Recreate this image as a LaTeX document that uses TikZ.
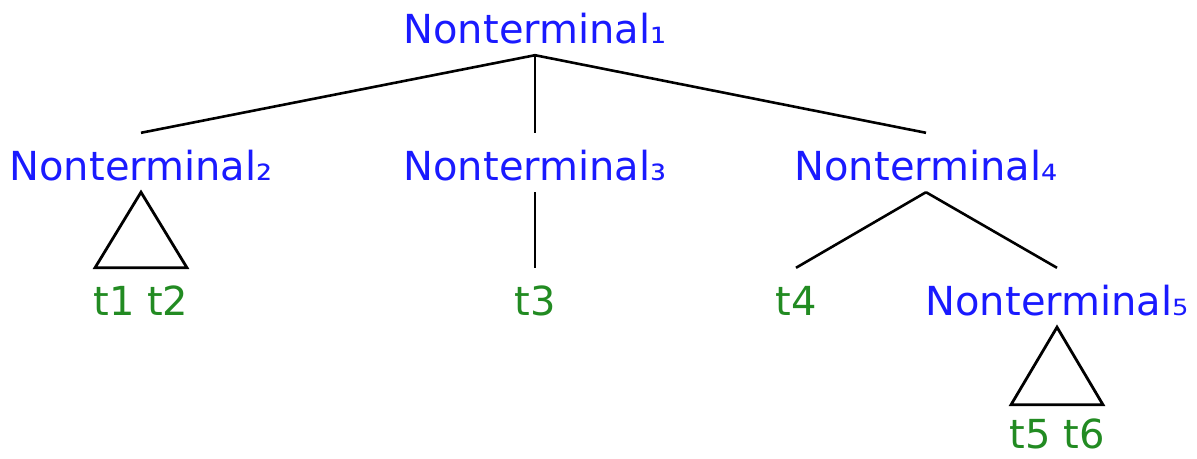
\documentclass[tikz,border=0pt]{standalone}
\usepackage{fontspec}
\setmainfont{DejaVu Sans}
\begin{document}
\begin{tikzpicture}[x=1pt,y=-1pt,
  lbl/.style={inner xsep=0pt,inner ysep=0pt,text height=47pt,text depth=12pt,
    font=\fontsize{40}{42}\selectfont},
  nt/.style={lbl,text={rgb,255:red,26;green,26;blue,255}},
  term/.style={lbl,text={rgb,255:red,34;green,139;blue,34}},
  edge/.style={line width=2.6pt,black},
  tri/.style={line width=2.8pt,black,line join=miter}]
\useasboundingbox (0,0) rectangle (1197,458);
% grammar symbols
\node[nt] (n1) at (535,25.5) {Nonterminal₁};
\node[nt] (n2) at (141,162.5) {Nonterminal₂};
\node[nt] (n3) at (535,162.5) {Nonterminal₃};
\node[nt] (n4) at (926,162.5) {Nonterminal₄};
\node[nt] (n5) at (1057,297.5) {Nonterminal₅};
% terminals
\node[term] (t12) at (141,297.5) {t1 t2};
\node[term] (t3) at (535,297.5) {t3};
\node[term] (t4) at (796,297.5) {t4};
\node[term,text height=43pt,text depth=9pt] (t56) at (1057,431) {t5 t6};
% branches
\draw[edge] (n1.south) -- (n2.north);
\draw[edge] (n1.south) -- (n3.north);
\draw[edge] (n1.south) -- (n4.north);
\draw[edge] (n3.south) -- (t3.north);
\draw[edge] (n4.south) -- (t4.north);
\draw[edge] (n4.south) -- (n5.north);
% collapsed subtrees
\draw[tri] (n2.south) -- ([xshift=-46pt]t12.north) -- ([xshift=46pt]t12.north) -- cycle;
\draw[tri] (n5.south) -- ([xshift=-46pt]t56.north) -- ([xshift=46pt]t56.north) -- cycle;
\end{tikzpicture}
\end{document}
